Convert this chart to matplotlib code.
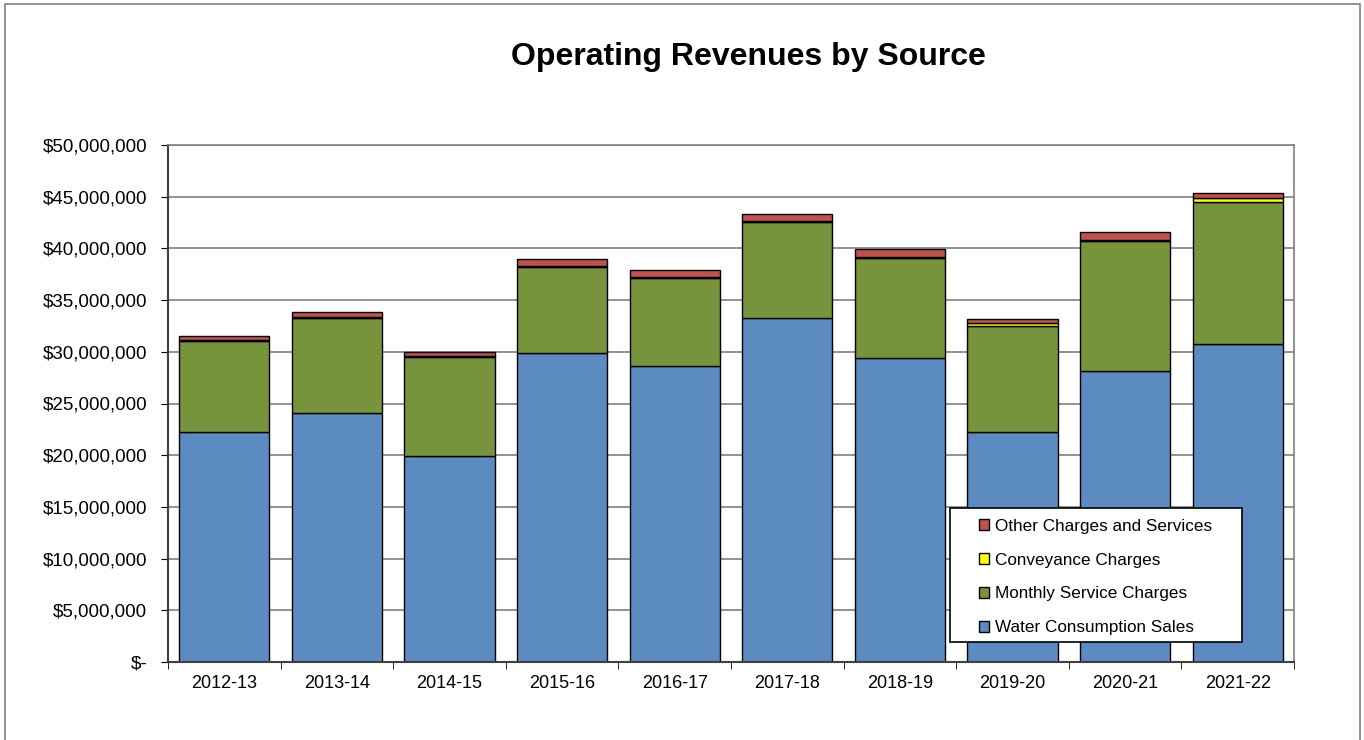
import matplotlib.pyplot as plt
import numpy as np
from matplotlib.ticker import FuncFormatter, MultipleLocator

plt.rcParams['font.family'] = ['Liberation Sans', 'DejaVu Sans']

years = ['2012-13', '2013-14', '2014-15', '2015-16', '2016-17',
         '2017-18', '2018-19', '2019-20', '2020-21', '2021-22']
water = [22.24, 24.08, 19.92, 29.88, 28.63, 33.27, 29.40, 22.24, 28.14, 30.75]
monthly = [8.80, 9.20, 9.55, 8.35, 8.55, 9.30, 9.65, 10.26, 12.60, 13.77]
conveyance = [0.10, 0.10, 0.10, 0.10, 0.10, 0.10, 0.10, 0.26, 0.10, 0.33]
other = [0.36, 0.47, 0.43, 0.64, 0.63, 0.65, 0.79, 0.38, 0.78, 0.48]

water = np.array(water) * 1e6
monthly = np.array(monthly) * 1e6
conveyance = np.array(conveyance) * 1e6
other = np.array(other) * 1e6

fig = plt.figure(figsize=(13.64, 7.4), dpi=100)
ax = fig.add_axes([168 / 1364, 1 - 662 / 740, 1126 / 1364, 517 / 740])

x = np.arange(len(years))
w = 0.8
ec = dict(edgecolor='black', linewidth=1.0)
b1 = ax.bar(x, water, w, color='#5B8BC0', label='Water Consumption Sales', **ec)
b2 = ax.bar(x, monthly, w, bottom=water, color='#77933C', label='Monthly Service Charges', **ec)
b3 = ax.bar(x, conveyance, w, bottom=water + monthly, color='#FFFF00', label='Conveyance Charges', **ec)
b4 = ax.bar(x, other, w, bottom=water + monthly + conveyance, color='#C0504D', label='Other Charges and Services', **ec)

ax.set_xlim(-0.5, len(years) - 0.5)
ax.set_ylim(0, 50e6)
ax.yaxis.set_major_locator(MultipleLocator(5e6))
ax.yaxis.set_major_formatter(FuncFormatter(lambda v, p: '$-' if v == 0 else '${:,.0f}'.format(v)))
ax.yaxis.grid(True, color='#808080', linewidth=1.2)
ax.set_axisbelow(True)

ax.set_xticks(x)
ax.set_xticklabels(years)
ax.set_xticks(np.arange(-0.5, len(years)), minor=True)
ax.tick_params(axis='x', which='major', length=0, labelsize=13, pad=9)
ax.tick_params(axis='x', which='minor', length=5, direction='out', color='black')
ax.tick_params(axis='y', length=5, direction='out', labelsize=13.5, pad=10)

for s in ['top', 'right']:
    ax.spines[s].set_color('#808080')
    ax.spines[s].set_linewidth(1.2)
for s in ['left', 'bottom']:
    ax.spines[s].set_color('#404040')
    ax.spines[s].set_linewidth(1.5)

fig.text(748 / 1364, 1 - 57 / 740, 'Operating Revenues by Source',
         ha='center', va='center', fontsize=23, fontweight='bold')

# legend box drawn separately so the entries can sit further right inside it
box = plt.Rectangle(((950 - 168) / 1126, (662 - 642) / 517), 292 / 1126, 134 / 517,
                    transform=ax.transAxes, facecolor='white', edgecolor='black',
                    linewidth=1.2, zorder=5)
ax.add_patch(box)
leg = ax.legend(handles=[b4, b3, b2, b1], loc='center left',
                bbox_to_anchor=((979 - 168) / 1126, (662 - 577) / 517),
                fontsize=12.3, frameon=False, handlelength=0.6, handleheight=0.6,
                labelspacing=1.1, borderpad=0, handletextpad=0.35, borderaxespad=0)
leg.set_zorder(6)

fig.patches.append(plt.Rectangle((5 / 1364, -0.01), 1355 / 1364, 1 - 4 / 740 + 0.01,
                                 transform=fig.transFigure, fill=False,
                                 edgecolor='#808080', linewidth=1.2))

fig.savefig('out.png', dpi=100)
